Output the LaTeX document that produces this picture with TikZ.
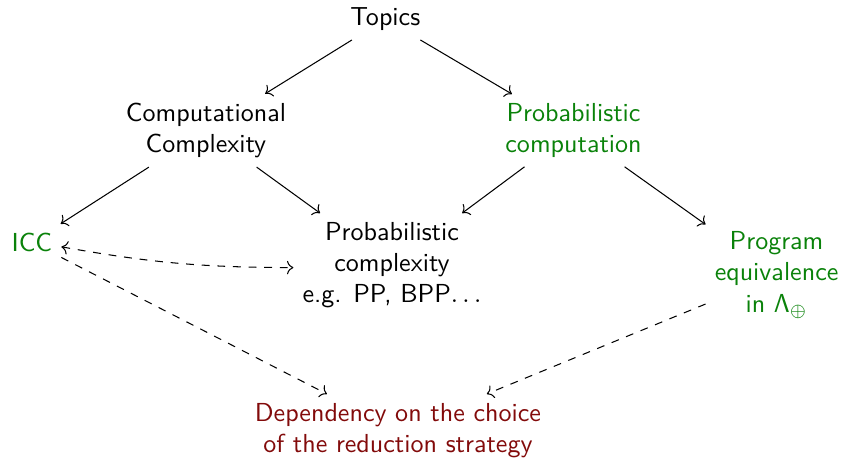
\documentclass[tikz,border=0pt]{standalone}
\usepackage{amsmath,amssymb}
\usepackage{xcolor}
\usepackage{tikz}
\usetikzlibrary{arrows.meta}
\definecolor{topgreen}{RGB}{10,130,10}
\definecolor{topred}{RGB}{130,10,10}
\tikzset{
  topic/.style ={font=\sffamily, align=center},
  topicg/.style={topic, text=topgreen},
  topicr/.style={topic, text=topred},
  sub/.style   ={draw, ->},
  rel/.style   ={draw, dashed, ->},
}
\begin{document}
\begin{tikzpicture}
  \useasboundingbox (0,0) rectangle (11.39,-6.17);
  \node[topic]  (top)  at (5.20,-0.26) {Topics};
  \node[topic]  (cc)   at (2.78,-1.76) {Computational\\Complexity};
  \node[topicg] (pc)   at (7.74,-1.76) {Probabilistic\\computation};
  \node[topicg] (icc)  at (0.43,-3.27) {ICC};
  \node[topic]  (pcx)  at (5.29,-3.58) {Probabilistic\\complexity\\e.g. PP, BPP$\ldots$};
  \node[topicg] (prog) at (10.48,-3.71) {Program\\equivalence\\in Λ$_\oplus$};
  \node[topicr] (dep)  at (5.37,-5.81) {Dependency on the choice\\of the reduction strategy};
  % tree
  \draw[sub] (top) -- (cc);
  \draw[sub] (top) -- (pc);
  \draw[sub] (cc) -- (icc);
  \draw[sub] (cc) -- (pcx);
  \draw[sub] (pc) -- (pcx);
  \draw[sub] (pc) -- (prog);
  % links
  \draw[rel, <->] (icc) to[bend right=5] (pcx);
  \draw[rel] (icc) -- (dep);
  \draw[rel] (prog) -- (dep);
\end{tikzpicture}
\end{document}
